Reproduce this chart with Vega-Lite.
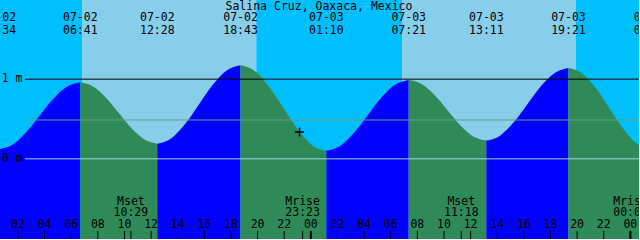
{
  "$schema": "https://vega.github.io/schema/vega-lite/v6.json",
  "width": 640,
  "height": 240,
  "autosize": {"type": "fit", "contains": "padding"},
  "padding": 0,
  "config": {"view": {"stroke": null}},
  "datasets": {
    "bands": [
      {"a": 0.65, "b": 6.85, "k": "night"},
      {"a": 6.85, "b": 19.9, "k": "day"},
      {"a": 19.9, "b": 30.85, "k": "night"},
      {"a": 30.85, "b": 43.9, "k": "day"},
      {"a": 43.9, "b": 48.65, "k": "night"}
    ],
    "tide": [
      {"seg": 1, "dir": "rising", "t": 0.567, "h": 0.12},
      {"seg": 1, "dir": "rising", "t": 1.586, "h": 0.176},
      {"seg": 1, "dir": "rising", "t": 2.605, "h": 0.33},
      {"seg": 1, "dir": "rising", "t": 3.625, "h": 0.54},
      {"seg": 1, "dir": "rising", "t": 4.644, "h": 0.75},
      {"seg": 1, "dir": "rising", "t": 5.663, "h": 0.904},
      {"seg": 1, "dir": "rising", "t": 6.683, "h": 0.96},
      {"seg": 2, "dir": "falling", "t": 6.683, "h": 0.96},
      {"seg": 2, "dir": "falling", "t": 7.647, "h": 0.908},
      {"seg": 2, "dir": "falling", "t": 8.611, "h": 0.768},
      {"seg": 2, "dir": "falling", "t": 9.575, "h": 0.575},
      {"seg": 2, "dir": "falling", "t": 10.539, "h": 0.383},
      {"seg": 2, "dir": "falling", "t": 11.503, "h": 0.242},
      {"seg": 2, "dir": "falling", "t": 12.467, "h": 0.19},
      {"seg": 3, "dir": "rising", "t": 12.467, "h": 0.19},
      {"seg": 3, "dir": "rising", "t": 13.508, "h": 0.256},
      {"seg": 3, "dir": "rising", "t": 14.55, "h": 0.436},
      {"seg": 3, "dir": "rising", "t": 15.592, "h": 0.683},
      {"seg": 3, "dir": "rising", "t": 16.633, "h": 0.929},
      {"seg": 3, "dir": "rising", "t": 17.675, "h": 1.109},
      {"seg": 3, "dir": "rising", "t": 18.717, "h": 1.175},
      {"seg": 4, "dir": "falling", "t": 18.717, "h": 1.175},
      {"seg": 4, "dir": "falling", "t": 19.792, "h": 1.103},
      {"seg": 4, "dir": "falling", "t": 20.867, "h": 0.906},
      {"seg": 4, "dir": "falling", "t": 21.942, "h": 0.638},
      {"seg": 4, "dir": "falling", "t": 23.017, "h": 0.369},
      {"seg": 4, "dir": "falling", "t": 24.092, "h": 0.172},
      {"seg": 4, "dir": "falling", "t": 25.167, "h": 0.1},
      {"seg": 5, "dir": "rising", "t": 25.167, "h": 0.1},
      {"seg": 5, "dir": "rising", "t": 26.197, "h": 0.16},
      {"seg": 5, "dir": "rising", "t": 27.228, "h": 0.323},
      {"seg": 5, "dir": "rising", "t": 28.258, "h": 0.545},
      {"seg": 5, "dir": "rising", "t": 29.289, "h": 0.768},
      {"seg": 5, "dir": "rising", "t": 30.319, "h": 0.93},
      {"seg": 5, "dir": "rising", "t": 31.35, "h": 0.99},
      {"seg": 6, "dir": "falling", "t": 31.35, "h": 0.99},
      {"seg": 6, "dir": "falling", "t": 32.322, "h": 0.939},
      {"seg": 6, "dir": "falling", "t": 33.294, "h": 0.8},
      {"seg": 6, "dir": "falling", "t": 34.267, "h": 0.61},
      {"seg": 6, "dir": "falling", "t": 35.239, "h": 0.42},
      {"seg": 6, "dir": "falling", "t": 36.211, "h": 0.281},
      {"seg": 6, "dir": "falling", "t": 37.183, "h": 0.23},
      {"seg": 7, "dir": "rising", "t": 37.183, "h": 0.23},
      {"seg": 7, "dir": "rising", "t": 38.211, "h": 0.291},
      {"seg": 7, "dir": "rising", "t": 39.239, "h": 0.458},
      {"seg": 7, "dir": "rising", "t": 40.267, "h": 0.685},
      {"seg": 7, "dir": "rising", "t": 41.294, "h": 0.913},
      {"seg": 7, "dir": "rising", "t": 42.322, "h": 1.079},
      {"seg": 7, "dir": "rising", "t": 43.35, "h": 1.14},
      {"seg": 8, "dir": "falling", "t": 43.35, "h": 1.14},
      {"seg": 8, "dir": "falling", "t": 44.383, "h": 1.072},
      {"seg": 8, "dir": "falling", "t": 45.417, "h": 0.885},
      {"seg": 8, "dir": "falling", "t": 46.45, "h": 0.63},
      {"seg": 8, "dir": "falling", "t": 47.483, "h": 0.375},
      {"seg": 8, "dir": "falling", "t": 48.517, "h": 0.188},
      {"seg": 8, "dir": "falling", "t": 49.55, "h": 0.12}
    ],
    "extrema": [
      {"t": 0.567, "d": "07-02", "tm": "00:34"},
      {"t": 6.683, "d": "07-02", "tm": "06:41"},
      {"t": 12.467, "d": "07-02", "tm": "12:28"},
      {"t": 18.717, "d": "07-02", "tm": "18:43"},
      {"t": 25.167, "d": "07-03", "tm": "01:10"},
      {"t": 31.35, "d": "07-03", "tm": "07:21"},
      {"t": 37.183, "d": "07-03", "tm": "13:11"},
      {"t": 43.35, "d": "07-03", "tm": "19:21"},
      {"t": 49.55, "d": "07-04", "tm": "01:33"}
    ],
    "moon": [
      {"t": 10.483, "ev": "Mset", "tm": "10:29"},
      {"t": 23.383, "ev": "Mrise", "tm": "23:23"},
      {"t": 35.3, "ev": "Mset", "tm": "11:18"},
      {"t": 48.017, "ev": "Mrise", "tm": "00:01"}
    ],
    "hours": [
      {"t": 2, "lab": "02"}, {"t": 4, "lab": "04"}, {"t": 6, "lab": "06"}, {"t": 8, "lab": "08"},
      {"t": 10, "lab": "10"}, {"t": 12, "lab": "12"}, {"t": 14, "lab": "14"}, {"t": 16, "lab": "16"},
      {"t": 18, "lab": "18"}, {"t": 20, "lab": "20"}, {"t": 22, "lab": "22"}, {"t": 24, "lab": "00"},
      {"t": 26, "lab": "02"}, {"t": 28, "lab": "04"}, {"t": 30, "lab": "06"}, {"t": 32, "lab": "08"},
      {"t": 34, "lab": "10"}, {"t": 36, "lab": "12"}, {"t": 38, "lab": "14"}, {"t": 40, "lab": "16"},
      {"t": 42, "lab": "18"}, {"t": 44, "lab": "20"}, {"t": 46, "lab": "22"}, {"t": 48, "lab": "00"}
    ],
    "levels": [
      {"lvl": 1, "k": "one"},
      {"lvl": 0.4875, "k": "mean"},
      {"lvl": 0, "k": "zero"}
    ],
    "ylabels": [
      {"lvl": 1, "txt": "1 m"},
      {"lvl": 0, "txt": "0 m"}
    ],
    "now": [{"t": 23.15, "h": 0.3375}]
  },
  "layer": [
    {
      "data": {"name": "bands"},
      "mark": {"type": "rect"},
      "encoding": {
        "x": {"field": "a", "type": "quantitative", "scale": {"domain": [0.65, 48.65], "nice": false, "zero": false}, "axis": null},
        "x2": {"field": "b"},
        "fill": {"field": "k", "type": "nominal", "scale": {"domain": ["night", "day", "rising", "falling"], "range": ["#00BFFF", "#87CEEB", "#0000FF", "#2E8B57"]}, "legend": null}
      }
    },
    {
      "data": {"name": "tide"},
      "mark": {"type": "area", "interpolate": "monotone", "clip": true, "opacity": 1},
      "encoding": {
        "x": {"field": "t", "type": "quantitative"},
        "y": {"field": "h", "type": "quantitative", "scale": {"domain": [-1.00625, 1.99375], "nice": false, "zero": false}, "axis": null},
        "y2": {"datum": -1.00625},
        "detail": {"field": "seg"},
        "fill": {"field": "dir", "type": "nominal"}
      }
    },
    {
      "data": {"name": "levels"},
      "mark": {"type": "rule", "strokeWidth": 1},
      "encoding": {
        "y": {"field": "lvl", "type": "quantitative"},
        "x": {"datum": 2.525, "type": "quantitative"},
        "x2": {"datum": 48.65},
        "stroke": {"field": "k", "type": "nominal", "scale": {"domain": ["one", "mean", "zero"], "range": ["#000000", "#5f9f8a", "#9fd6ee"]}, "legend": null}
      }
    },
    {
      "data": {"name": "ylabels"},
      "mark": {"type": "text", "font": "DejaVu Sans Mono", "fontSize": 11.5, "align": "left", "baseline": "middle", "color": "#000000"},
      "encoding": {
        "x": {"datum": 0.78, "type": "quantitative"},
        "y": {"field": "lvl", "type": "quantitative"},
        "text": {"field": "txt"}
      }
    },
    {
      "data": {"values": [{"name": "Salina Cruz, Oaxaca, Mexico"}]},
      "mark": {"type": "text", "font": "DejaVu Sans Mono", "fontSize": 11.5, "align": "center", "baseline": "alphabetic", "color": "#000000"},
      "encoding": {
        "x": {"datum": 24.61, "type": "quantitative"},
        "y": {"datum": 1.8625, "type": "quantitative"},
        "text": {"field": "name"}
      }
    },
    {
      "data": {"name": "extrema"},
      "mark": {"type": "text", "font": "DejaVu Sans Mono", "fontSize": 11.5, "align": "center", "baseline": "alphabetic", "color": "#000000", "clip": true},
      "encoding": {
        "x": {"field": "t", "type": "quantitative"},
        "y": {"datum": 1.73125, "type": "quantitative"},
        "text": {"field": "d"}
      }
    },
    {
      "data": {"name": "extrema"},
      "mark": {"type": "text", "font": "DejaVu Sans Mono", "fontSize": 11.5, "align": "center", "baseline": "alphabetic", "color": "#000000", "clip": true},
      "encoding": {
        "x": {"field": "t", "type": "quantitative"},
        "y": {"datum": 1.565, "type": "quantitative"},
        "text": {"field": "tm"}
      }
    },
    {
      "data": {"name": "moon"},
      "mark": {"type": "text", "font": "DejaVu Sans Mono", "fontSize": 11.5, "align": "center", "baseline": "alphabetic", "color": "#000000", "clip": true},
      "encoding": {
        "x": {"field": "t", "type": "quantitative"},
        "y": {"datum": -0.58125, "type": "quantitative"},
        "text": {"field": "ev"}
      }
    },
    {
      "data": {"name": "moon"},
      "mark": {"type": "text", "font": "DejaVu Sans Mono", "fontSize": 11.5, "align": "center", "baseline": "alphabetic", "color": "#000000", "clip": true},
      "encoding": {
        "x": {"field": "t", "type": "quantitative"},
        "y": {"datum": -0.7225, "type": "quantitative"},
        "text": {"field": "tm"}
      }
    },
    {
      "data": {"name": "moon"},
      "mark": {"type": "rule", "strokeWidth": 1, "color": "#000000"},
      "encoding": {
        "x": {"field": "t", "type": "quantitative"},
        "y": {"datum": -0.90625, "type": "quantitative"},
        "y2": {"datum": -1.00625}
      }
    },
    {
      "data": {"name": "hours"},
      "mark": {"type": "text", "font": "DejaVu Sans Mono", "fontSize": 11.5, "align": "center", "baseline": "alphabetic", "color": "#000000", "clip": true},
      "encoding": {
        "x": {"field": "t", "type": "quantitative"},
        "y": {"datum": -0.8725, "type": "quantitative"},
        "text": {"field": "lab"}
      }
    },
    {
      "data": {"name": "hours"},
      "transform": [{"filter": "datum.lab != '00'"}],
      "mark": {"type": "rule", "strokeWidth": 1, "color": "#000000"},
      "encoding": {
        "x": {"field": "t", "type": "quantitative"},
        "y": {"datum": -0.90625, "type": "quantitative"},
        "y2": {"datum": -1.00625}
      }
    },
    {
      "data": {"name": "hours"},
      "transform": [{"filter": "datum.lab == '00'"}],
      "mark": {"type": "rule", "strokeWidth": 2, "color": "#000000"},
      "encoding": {
        "x": {"field": "t", "type": "quantitative"},
        "y": {"datum": -0.90625, "type": "quantitative"},
        "y2": {"datum": -1.00625}
      }
    },
    {
      "data": {"name": "now"},
      "mark": {"type": "point", "shape": "M-1,0L1,0M0,-1L0,1", "size": 81, "filled": false, "stroke": "#000000", "strokeWidth": 1.5, "opacity": 1},
      "encoding": {
        "x": {"field": "t", "type": "quantitative"},
        "y": {"field": "h", "type": "quantitative"}
      }
    }
  ]
}
